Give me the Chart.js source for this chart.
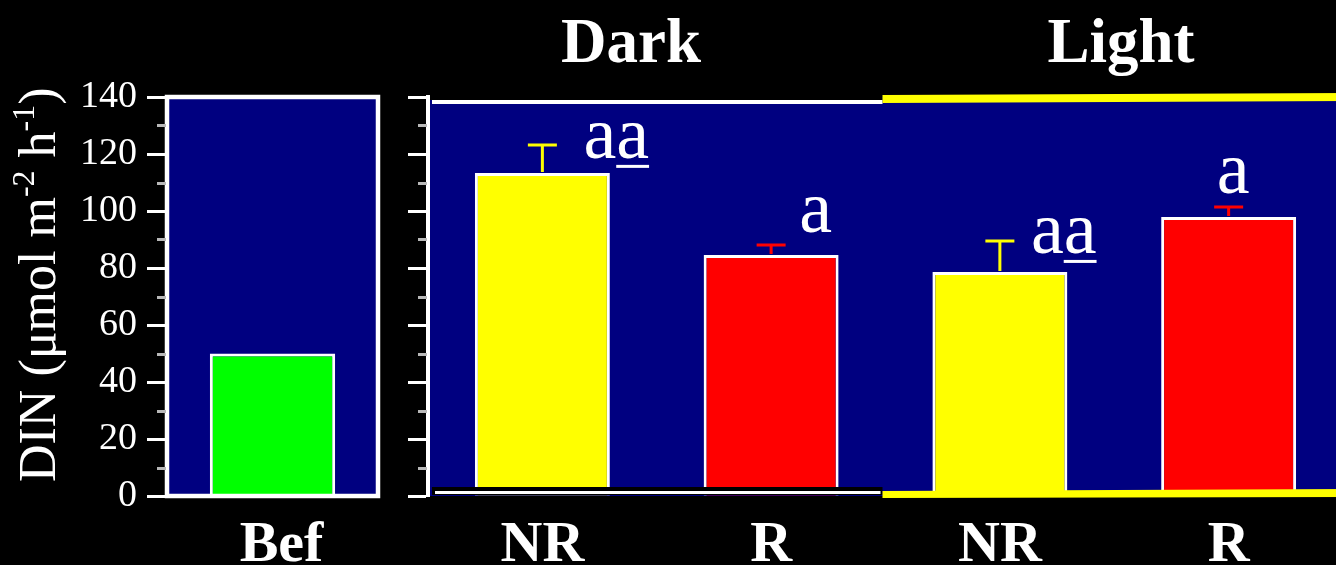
<!DOCTYPE html>
<html>
<head>
<meta charset="utf-8">
<script src="https://cdn.jsdelivr.net/npm/chart.js@4.4.1/dist/chart.umd.min.js"></script>
<style>
  html, body { margin: 0; padding: 0; background: #000; overflow: hidden; }
  #wrap { position: relative; width: 1336px; height: 565px; overflow: hidden; background: #000; }
  canvas { position: absolute; top: 0; }
  #befChart { left: 0; }
  #groupChart { left: 380px; }
</style>
</head>
<body>
<div id="wrap">
  <canvas id="befChart" width="390" height="565"></canvas>
  <canvas id="groupChart" width="970" height="565"></canvas>
</div>
<script>
// ---- data ----
const befCategories = ['Bef'];
const befValues = [50];

const groupCategories = ['NR', 'R', 'NR', 'R'];
const groupValues = [113.3, 84.6, 78.6, 97.9];
const groupErrors = [9.9, 3.5, 10.9, 3.5];       // upper error (same units)
const groupLetters = ['aa', 'a', 'aa', 'a'];       // significance letters

const panelTitles = ['Dark', 'Light'];
const yTicks = [0, 20, 40, 60, 80, 100, 120, 140];
const yMinorTicks = [10, 30, 50, 70, 90, 110, 130];

// ---- styling ----
const SERIF = '"Liberation Serif", "Times New Roman", serif';
const NAVY = '#000080';
const YELLOW = '#FFFF00';
const RED = '#FF0000';
const GREEN = '#00FF00';
const barColours = { NR: YELLOW, R: RED };

// letter placement: dx = left edge relative to bar centre (px), dy = baseline relative to error-bar top (px)
const letterPlacement = [
  { dx: 41, dy: 13 },
  { dx: 28, dy: -13 },
  { dx: 31, dy: 12 },
  { dx: -12, dy: -14 }
];
const titleCentres = [251, 741];   // canvas x of panel headings
const titleBaseline = 62;

function yScaleBase(extra) {
  return Object.assign({
    min: 0,
    max: 140,
    afterBuildTicks: (s) => { s.ticks = yTicks.map(v => ({ value: v })); },
    grid: { drawOnChartArea: false, drawTicks: true, tickLength: 20, tickColor: '#fff', tickWidth: 3 }
  }, extra);
}

function xScaleBase(extra) {
  return Object.assign({
    afterFit: (s) => { s.height = 69; },
    grid: { display: false, drawTicks: false },
    border: { display: false },
  }, extra);
}

function drawMinorTicks(chart) {
  const ctx = chart.ctx, y = chart.scales.y, left = chart.chartArea.left;
  ctx.save();
  ctx.strokeStyle = '#b8b8b8';
  ctx.lineWidth = 3;
  yMinorTicks.forEach(v => {
    const py = Math.round(y.getPixelForValue(v)) + 0.5;
    ctx.beginPath();
    ctx.moveTo(left - 10, py);
    ctx.lineTo(left - 1, py);
    ctx.stroke();
  });
  ctx.restore();
}

// ---- left panel: before ----
const befPanel = {
  id: 'befPanel',
  beforeDatasetsDraw(chart) {
    const { ctx, chartArea: a } = chart;
    ctx.save();
    ctx.fillStyle = NAVY;
    ctx.fillRect(a.left, a.top, a.right - a.left, a.bottom - a.top);
    ctx.restore();
  },
  afterDatasetsDraw(chart) {
    const { ctx, chartArea: a } = chart;
    ctx.save();
    ctx.strokeStyle = '#fff';
    ctx.lineWidth = 4.5;
    ctx.strokeRect(a.left, a.top, a.right - a.left, a.bottom - a.top);
    ctx.restore();
    drawMinorTicks(chart);

    // y-axis title with superscripts
    const parts = [
      { t: 'DIN (\u03BCmol m', sup: false },
      { t: '-2', sup: true },
      { t: ' h', sup: false },
      { t: '-1', sup: true },
      { t: ')', sup: false }
    ];
    ctx.save();
    ctx.translate(55, 482);
    ctx.rotate(-Math.PI / 2);
    ctx.fillStyle = '#fff';
    ctx.textAlign = 'left';
    ctx.textBaseline = 'alphabetic';
    let x = 0;
    parts.forEach(p => {
      ctx.font = (p.sup ? '32px ' : '52px ') + SERIF;
      ctx.fillText(p.t, x, p.sup ? -21 : 0);
      x += ctx.measureText(p.t).width;
    });
    ctx.restore();
  }
};

new Chart(document.getElementById('befChart'), {
  type: 'bar',
  data: {
    labels: befCategories,
    datasets: [{
      data: befValues,
      backgroundColor: GREEN,
      borderColor: '#fff',
      borderWidth: 3,
      barPercentage: 0.594,
      categoryPercentage: 1
    }]
  },
  options: {
    responsive: false,
    animation: false,
    layout: { padding: { top: 97, right: 12, left: 0, bottom: 0 } },
    plugins: { legend: { display: false }, tooltip: { enabled: false } },
    scales: {
      x: xScaleBase({
        ticks: { color: '#fff', font: { family: SERIF, size: 58, weight: 'bold' }, padding: 15, labelOffset: 9 }
      }),
      y: yScaleBase({
        afterFit: (s) => { s.width = 167; },
        ticks: { color: '#fff', font: { family: SERIF, size: 38 }, padding: 10 },
        border: { display: false }
      })
    }
  },
  plugins: [befPanel]
});

// ---- right panel: dark / light groups ----
const groupPanel = {
  id: 'groupPanel',
  beforeDatasetsDraw(chart) {
    const { ctx, chartArea: a } = chart;
    ctx.save();
    ctx.fillStyle = NAVY;
    ctx.fillRect(a.left + 2, a.top, chart.width - a.left - 2, a.bottom - a.top);
    ctx.restore();
  },
  afterDatasetsDraw(chart) {
    const { ctx, chartArea: a, scales: { x, y } } = chart;
    const W = chart.width;
    const split = (x.getPixelForValue(1) + x.getPixelForValue(2)) / 2 - 3;
    const top = a.top, bot = a.bottom;

    ctx.save();
    // dark section frame: black band with white rule
    ctx.fillStyle = '#000';
    ctx.fillRect(a.left + 2, top - 1, split - a.left - 2, 4);
    ctx.fillStyle = '#fff';
    ctx.fillRect(a.left + 4, top + 3, split - a.left - 4, 4);
    ctx.fillStyle = '#000';
    ctx.fillRect(a.left + 4, bot - 9, split - a.left - 4, 8);
    ctx.fillStyle = '#fff';
    ctx.fillRect(a.left + 7, bot - 5, split - a.left - 9, 3);

    // light section frame: yellow rules
    ctx.fillStyle = YELLOW;
    ctx.beginPath();
    ctx.moveTo(split, top - 2);
    ctx.lineTo(W, top - 4);
    ctx.lineTo(W, top + 4);
    ctx.lineTo(split, top + 6);
    ctx.closePath();
    ctx.fill();
    ctx.beginPath();
    ctx.moveTo(split, bot - 5);
    ctx.lineTo(W, bot - 7);
    ctx.lineTo(W, bot + 1);
    ctx.lineTo(split, bot + 2);
    ctx.closePath();
    ctx.fill();
    ctx.restore();

    drawMinorTicks(chart);

    // error bars (upper only) and significance letters
    ctx.save();
    groupValues.forEach((v, i) => {
      const cx = x.getPixelForValue(i);
      const yTop = y.getPixelForValue(v + groupErrors[i]);
      const yBar = y.getPixelForValue(v);
      ctx.strokeStyle = barColours[groupCategories[i]];
      ctx.lineWidth = 3;
      ctx.beginPath();
      ctx.moveTo(cx, yBar - 1);
      ctx.lineTo(cx, yTop);
      ctx.moveTo(cx - 14.5, yTop);
      ctx.lineTo(cx + 14.5, yTop);
      ctx.stroke();

      const p = letterPlacement[i];
      const lx = cx + p.dx, ly = yTop + p.dy;
      ctx.fillStyle = '#fff';
      ctx.font = '74px ' + SERIF;
      ctx.textAlign = 'left';
      ctx.textBaseline = 'alphabetic';
      ctx.fillText(groupLetters[i], lx, ly);
      if (groupLetters[i].length > 1) {
        const wa = ctx.measureText('a').width;
        ctx.fillRect(lx + wa, ly + 7, wa, 3);
      }
    });

    // panel headings
    ctx.fillStyle = '#fff';
    ctx.font = 'bold 63px ' + SERIF;
    ctx.textAlign = 'center';
    panelTitles.forEach((t, i) => ctx.fillText(t, titleCentres[i], titleBaseline));
    ctx.restore();
  }
};

new Chart(document.getElementById('groupChart'), {
  type: 'bar',
  data: {
    labels: groupCategories,
    datasets: [{
      data: groupValues,
      backgroundColor: groupCategories.map(c => barColours[c]),
      borderColor: '#fff',
      borderWidth: 3,
      barPercentage: 0.59,
      categoryPercentage: 1
    }]
  },
  options: {
    responsive: false,
    animation: false,
    layout: { padding: { top: 97, right: 7, left: 0, bottom: 0 } },
    plugins: { legend: { display: false }, tooltip: { enabled: false } },
    scales: {
      x: xScaleBase({
        ticks: { color: '#fff', font: { family: SERIF, size: 58, weight: 'bold' }, padding: 15 }
      }),
      y: yScaleBase({
        afterFit: (s) => { s.width = 48; },
        ticks: { display: false },
        border: { display: true, color: '#fff', width: 4 }
      })
    }
  },
  plugins: [groupPanel]
});
</script>
</body>
</html>
